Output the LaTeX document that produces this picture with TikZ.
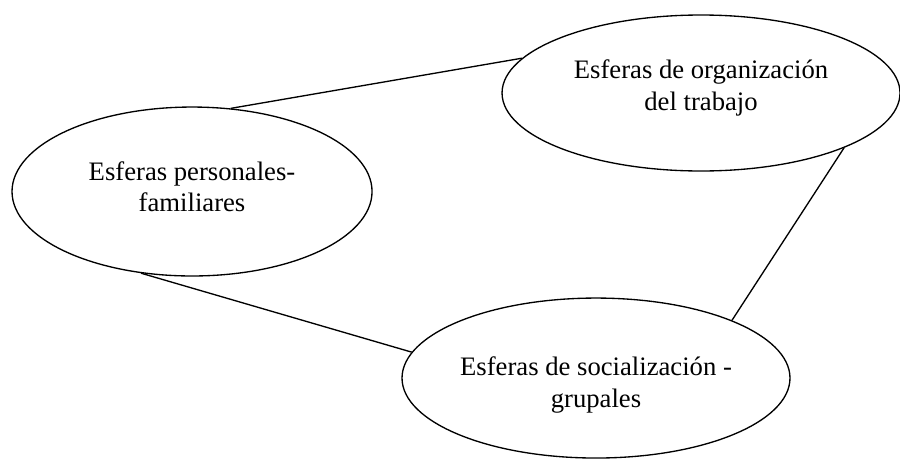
\documentclass[tikz,border=0pt]{standalone}
\usepackage{fontspec}
\setmainfont{Liberation Serif}
\usetikzlibrary{shapes.geometric}

\begin{document}
\begin{tikzpicture}[
    esfera/.style={draw, ellipse, line width=0.6pt, inner sep=0pt},
    texto/.style={align=center, inner sep=0pt, font=\fontsize{12}{14}\selectfont},
    enlace/.style={line width=0.6pt}
]
        % Fix the page size
        \useasboundingbox (0,0) rectangle (14.234,7.244);

        % Draw the spheres
        \node[esfera, minimum width=5.694cm, minimum height=2.672cm] (personal) at (3.037,4.215) {};
        \node[esfera, minimum width=6.294cm, minimum height=2.467cm] (trabajo) at (11.087,5.773) {};
        \node[esfera, minimum width=6.136cm, minimum height=2.530cm] (social) at (9.426,1.265) {};

        % Label the spheres
        \node[texto] (personal-txt) at ([yshift=0.08cm]personal.center) {Esferas personales-\\familiares};
        \node[texto] (trabajo-txt) at ([yshift=0.08cm]trabajo.center) {Esferas de organización\\del trabajo};
        \node[texto] (social-txt) at ([yshift=-0.11cm]social.center) {Esferas de socialización -\\grupales};

        % Draw the links between the spheres
        \draw[enlace] (personal.65.5) -- (trabajo.169.8);
        \draw[enlace] (trabajo.-21.2) -- (social.23.9);
        \draw[enlace] (personal.238) -- (social.172);
\end{tikzpicture}
\end{document}
